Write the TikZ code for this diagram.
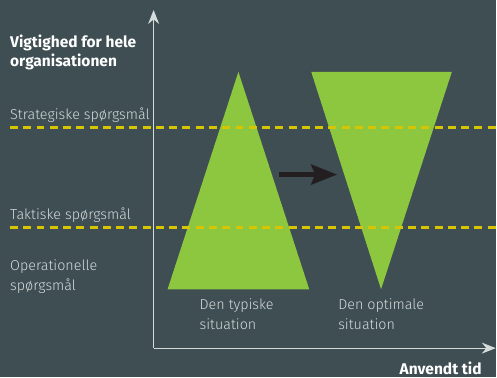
\documentclass[tikz,border=0pt]{standalone}
\usepackage{fontspec}
\setmainfont{Fira Sans}
\newfontfamily\lightfont{Fira Sans Light}
\usetikzlibrary{arrows.meta, positioning}
\definecolor{slate}{HTML}{3E4E52}
\definecolor{leaf}{HTML}{8DC63F}
\definecolor{mustard}{HTML}{D6C500}
\definecolor{ash}{HTML}{D5DBDB}
\definecolor{ink}{HTML}{231F20}

\begin{document}
\begin{tikzpicture}[x=1bp, y=-1bp,
  every node/.style={inner sep=0pt, anchor=base west, align=left},
  lbl/.style={font=\lightfont\fontsize{14.4}{20}\selectfont, text=ash},
  head/.style={font=\bfseries\fontsize{15.6}{19}\selectfont, text=white},
  level/.style={draw=mustard, line width=2.5bp, dash pattern=on 8bp off 5.3bp},
  axis/.style={draw=ash, line width=1bp, -{Stealth[length=14bp,width=11bp]}},
  wedge/.style={fill=leaf}]
  \fill[slate] (0,0) rectangle (497,378);

  \coordinate (typtop) at (239,72);
  \coordinate (typleft) at (168,290);
  \coordinate (typright) at (310,290);
  \coordinate (optleft) at (312,72);
  \coordinate (optright) at (453,72);
  \coordinate (optbot) at (382,290);
  \fill[wedge] (typtop) -- (typleft) -- (typright) -- cycle;
  \fill[wedge] (optleft) -- (optright) -- (optbot) -- cycle;

  \coordinate (s0) at (10,128);
  \coordinate (s1) at (497,128);
  \coordinate (t0) at (10,228);
  \coordinate (t1) at (497,228);
  \draw[level] (s0) -- (s1);
  \draw[level] (t0) -- (t1);

  \coordinate (orig) at (154,349);
  \coordinate (ytop) at (154,10);
  \coordinate (xend) at (497,349);
  \draw[axis] (orig) -- (ytop);
  \draw[axis] (orig) -- (xend);

  \coordinate (from) at (280,175);
  \coordinate (to) at (338,175);
  \draw[ink, line width=5bp, -{Stealth[length=26bp,width=20bp,inset=4bp]}] (from) -- (to);

  \node[head] (imp) at (10,67) {Vigtighed for hele\\organisationen};
  \node[lbl] (strat) at (10,120) {Strategiske spørgsmål};
  \node[lbl] (takt) at (10,220) {Taktiske spørgsmål};
  \node[lbl] (oper) at (10,291) {Operationelle\\spørgsmål};
  \node[lbl] (typ) at (200,330) {Den typiske\\situation};
  \node[lbl] (opt) at (339,330) {Den optimale\\situation};
  \node[head, anchor=base east] (time) at (483,375) {Anvendt tid};
\end{tikzpicture}
\end{document}
